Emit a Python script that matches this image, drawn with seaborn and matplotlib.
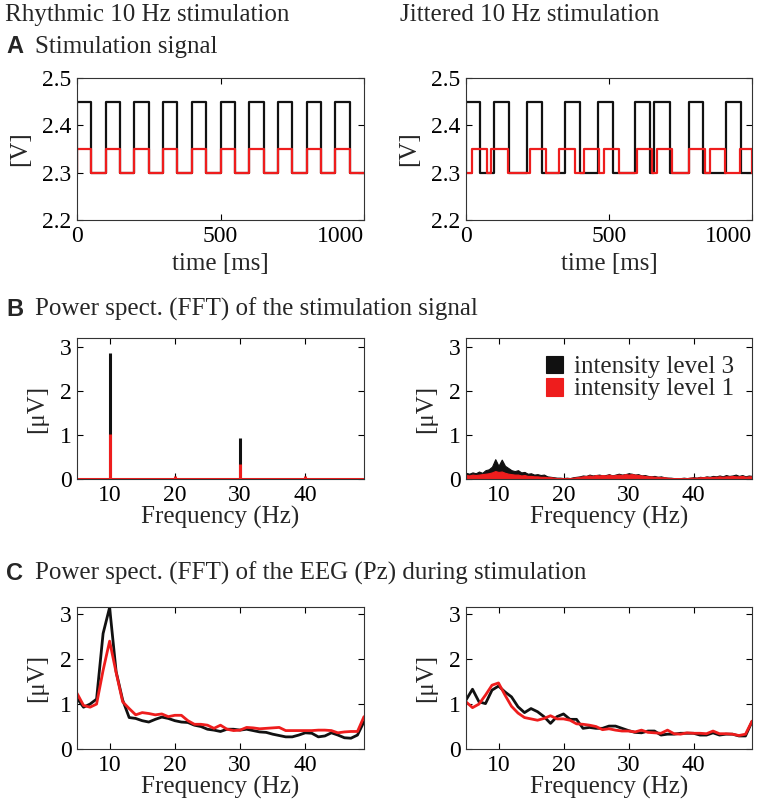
import numpy as np
import pandas as pd
import matplotlib
matplotlib.use("Agg")
import matplotlib.pyplot as plt
import seaborn as sns

sns.set_theme(style="ticks")
plt.rcParams['font.family'] = ['Liberation Serif', 'DejaVu Serif']

BLACK = '#111111'
RED = '#ee1d1d'
LABELS = ['intensity level 3', 'intensity level 1']

# --- A: stimulation signal, pulse on/off times in ms ---
T_END = 1000
rhythm_on = [0, 100, 200, 300, 400, 500, 600, 700, 800, 900]
rhythm_off = [50, 150, 250, 350, 450, 550, 650, 750, 850, 950]
jit_black_on = [0, 99, 213, 346, 462, 592, 658, 778, 909]
jit_black_off = [50, 151, 266, 398, 514, 644, 712, 830, 960]
jit_red_on = [21, 88, 224, 326, 412, 484, 597, 668, 781, 853, 957]
jit_red_off = [74, 146, 280, 381, 465, 534, 650, 720, 836, 906, 1000]
lvl3_volts = (2.30, 2.45)
lvl1_volts = (2.30, 2.35)

# --- B: FFT of the stimulation signal ---
peak_freq = [10, 20, 30, 40]
peak_lvl3 = [2.85, 0.03, 0.94, 0.03]
peak_lvl1 = [1.02, 0.06, 0.33, 0.06]

jit_fft_freq = np.arange(5, 49.5, 0.5)
jit_fft_lvl3 = [0.14, 0.12, 0.15, 0.13, 0.17, 0.14, 0.20, 0.22, 0.28, 0.45,
                0.30, 0.44, 0.30, 0.25, 0.20, 0.18, 0.20, 0.15, 0.16, 0.12,
                0.13, 0.10, 0.11, 0.09, 0.10, 0.06, 0.05, 0.04, 0.03, 0.03,
                0.02, 0.03, 0.02, 0.04, 0.05, 0.06, 0.08, 0.07, 0.10, 0.08,
                0.09, 0.10, 0.08, 0.09, 0.11, 0.08, 0.10, 0.12, 0.10, 0.11,
                0.13, 0.12, 0.10, 0.11, 0.08, 0.09, 0.07, 0.06, 0.07, 0.05,
                0.06, 0.04, 0.03, 0.03, 0.02, 0.02, 0.02, 0.03, 0.02, 0.03,
                0.04, 0.03, 0.05, 0.04, 0.06, 0.05, 0.07, 0.06, 0.08, 0.06,
                0.09, 0.07, 0.08, 0.10, 0.07, 0.09, 0.06, 0.08, 0.07]
jit_fft_lvl1 = [0.09, 0.08, 0.10, 0.09, 0.10, 0.11, 0.12, 0.13, 0.15, 0.18,
                0.16, 0.17, 0.14, 0.12, 0.11, 0.10, 0.10, 0.08, 0.09, 0.07,
                0.07, 0.06, 0.06, 0.05, 0.05, 0.04, 0.04, 0.03, 0.02, 0.02,
                0.02, 0.02, 0.02, 0.03, 0.04, 0.05, 0.06, 0.07, 0.08, 0.07,
                0.09, 0.08, 0.09, 0.08, 0.10, 0.08, 0.09, 0.10, 0.09, 0.11,
                0.10, 0.11, 0.10, 0.09, 0.08, 0.07, 0.06, 0.06, 0.05, 0.05,
                0.04, 0.04, 0.03, 0.02, 0.02, 0.02, 0.02, 0.02, 0.02, 0.03,
                0.03, 0.03, 0.04, 0.04, 0.05, 0.04, 0.05, 0.05, 0.06, 0.05,
                0.06, 0.06, 0.07, 0.06, 0.06, 0.07, 0.05, 0.06, 0.06]

# --- C: FFT of the EEG (Pz), 1 Hz bins from 5 to 49 Hz ---
eeg_freq = list(range(5, 50))
eeg_rhythm_lvl3 = [1.13, 0.93, 1.00, 1.11, 2.57, 3.15, 1.72, 1.09, 0.70, 0.68,
                   0.63, 0.60, 0.66, 0.71, 0.68, 0.63, 0.60, 0.59, 0.53, 0.50,
                   0.44, 0.42, 0.39, 0.44, 0.44, 0.42, 0.44, 0.41, 0.38, 0.37,
                   0.33, 0.30, 0.27, 0.27, 0.31, 0.36, 0.35, 0.27, 0.29, 0.36,
                   0.31, 0.25, 0.24, 0.31, 0.61]
eeg_rhythm_lvl1 = [1.24, 0.97, 0.93, 1.00, 1.75, 2.40, 1.70, 1.05, 0.90, 0.76,
                   0.81, 0.79, 0.76, 0.78, 0.72, 0.75, 0.75, 0.63, 0.55, 0.55,
                   0.53, 0.46, 0.53, 0.44, 0.41, 0.42, 0.48, 0.47, 0.45, 0.46,
                   0.47, 0.48, 0.41, 0.41, 0.41, 0.41, 0.41, 0.42, 0.42, 0.41,
                   0.36, 0.38, 0.39, 0.39, 0.72]
eeg_jit_lvl3 = [1.09, 1.33, 1.05, 1.01, 1.31, 1.40, 1.27, 1.16, 0.94, 0.81,
                0.90, 0.83, 0.72, 0.57, 0.72, 0.78, 0.66, 0.66, 0.46, 0.48,
                0.46, 0.46, 0.51, 0.51, 0.46, 0.41, 0.37, 0.36, 0.40, 0.40,
                0.31, 0.33, 0.33, 0.35, 0.35, 0.35, 0.31, 0.31, 0.36, 0.31,
                0.33, 0.33, 0.29, 0.29, 0.61]
eeg_jit_lvl1 = [1.05, 0.92, 1.00, 1.20, 1.42, 1.47, 1.20, 0.95, 0.80, 0.70,
                0.67, 0.64, 0.68, 0.74, 0.67, 0.67, 0.64, 0.56, 0.55, 0.53,
                0.50, 0.43, 0.45, 0.42, 0.40, 0.40, 0.38, 0.42, 0.37, 0.36,
                0.35, 0.42, 0.34, 0.33, 0.36, 0.35, 0.35, 0.34, 0.40, 0.34,
                0.34, 0.33, 0.30, 0.33, 0.62]


def square_wave(on, off, volts, label):
    low, high = volts
    xs, ys = [0], [low]
    for a, b in zip(on, off):
        xs += [a, a, b, b]
        ys += [low, high, high, low]
    xs.append(T_END)
    ys.append(low)
    return pd.DataFrame({'t': xs, 'v': ys, 'level': label})


def style_axes(ax):
    ax.tick_params(direction='in', top=True, right=True, length=4, width=0.8,
                   labelsize=17, pad=4, colors='black')
    for sp in ax.spines.values():
        sp.set_visible(True)
        sp.set_linewidth(0.8)
        sp.set_color('#333333')


W, H = 759, 809
fig = plt.figure(figsize=(W / 100, H / 100), dpi=100)


def add_axes(x0, y0, x1, y1):
    return fig.add_axes([x0 / W, 1 - y1 / H, (x1 - x0) / W, (y1 - y0) / H])


cols = [(77, 364), (466, 752)]
ax_a = [add_axes(x0, 78, x1, 220) for x0, x1 in cols]
ax_b = [add_axes(x0, 338, x1, 479) for x0, x1 in cols]
ax_c = [add_axes(x0, 607, x1, 749) for x0, x1 in cols]
pal = {LABELS[0]: BLACK, LABELS[1]: RED}

# A
sig_sets = [
    (rhythm_on, rhythm_off, rhythm_on, rhythm_off),
    (jit_black_on, jit_black_off, jit_red_on, jit_red_off),
]
for ax, (bon, boff, ron, roff) in zip(ax_a, sig_sets):
    df = pd.concat([square_wave(bon, boff, lvl3_volts, LABELS[0]),
                    square_wave(ron, roff, lvl1_volts, LABELS[1])])
    sns.lineplot(data=df, x='t', y='v', hue='level', palette=pal, sort=False,
                 estimator=None, linewidth=1.6, legend=False, ax=ax)
    ax.set_xlim(0, T_END)
    ax.set_ylim(2.2, 2.5)
    ax.set_xticks([0, 500, 1000])
    ax.set_yticks([2.2, 2.3, 2.4, 2.5])
    ax.set_xlabel('time [ms]', fontsize=18, labelpad=5)
    ax.set_ylabel('[V]', fontsize=18, labelpad=8)
    style_axes(ax)
    ax.get_xticklabels()[-1].set_horizontalalignment('right')

# B left: rhythmic -> line spectrum
ax = ax_b[0]
ax.axhline(0, color=RED, lw=2.2, zorder=2)
ax.vlines(peak_freq, 0, peak_lvl3, color=BLACK, lw=2.2, zorder=3)
ax.vlines(peak_freq, 0, peak_lvl1, color=RED, lw=2.2, zorder=4)

# B right: jittered -> broadband spectrum
ax = ax_b[1]
ax.fill_between(jit_fft_freq, 0, jit_fft_lvl3, color=BLACK,
                lw=0.8, label=LABELS[0])
ax.fill_between(jit_fft_freq, 0, jit_fft_lvl1, color=RED,
                lw=0.8, label=LABELS[1])
ax.legend(frameon=False, loc='upper right', fontsize=18, handlelength=0.7,
          handleheight=0.7, handletextpad=0.45, labelspacing=0.0,
          borderaxespad=0.3, bbox_to_anchor=(1.0, 1.0))

# C
for ax, (s3, s1) in zip(ax_c, [(eeg_rhythm_lvl3, eeg_rhythm_lvl1),
                              (eeg_jit_lvl3, eeg_jit_lvl1)]):
    df = pd.DataFrame({'f': eeg_freq * 2, 'p': s3 + s1,
                       'level': [LABELS[0]] * len(s3) + [LABELS[1]] * len(s1)})
    sns.lineplot(data=df, x='f', y='p', hue='level', palette=pal,
                 linewidth=2.0, legend=False, ax=ax)

for ax, ymax in [(a, 3.2) for a in ax_b] + [(a, 3.16) for a in ax_c]:
    ax.set_xlim(5, 49)
    ax.set_ylim(0, ymax)
    ax.set_xticks([10, 20, 30, 40])
    ax.set_yticks([0, 1, 2, 3])
    ax.set_xlabel('Frequency (Hz)', fontsize=18, labelpad=0)
    ax.set_ylabel('[\u03bcV]', fontsize=18, labelpad=8)
    style_axes(ax)

# headings
fig.text(5 / W, 1 - 21 / H, 'Rhythmic 10 Hz stimulation', fontsize=18,
         va='baseline')
fig.text(400 / W, 1 - 21 / H, 'Jittered 10 Hz stimulation', fontsize=18,
         va='baseline')
panels = [('A', 53, 'Stimulation signal'),
          ('B', 316, 'Power spect. (FFT) of the stimulation signal'),
          ('C', 580, 'Power spect. (FFT) of the EEG (Pz) during stimulation')]
for letter, yb, title in panels:
    fig.text(6 / W, 1 - yb / H, letter, fontsize=17, fontweight='bold',
             family='Liberation Sans', va='baseline')
    fig.text(35 / W, 1 - yb / H, title, fontsize=18, va='baseline')

fig.savefig('out.png', dpi=100)
